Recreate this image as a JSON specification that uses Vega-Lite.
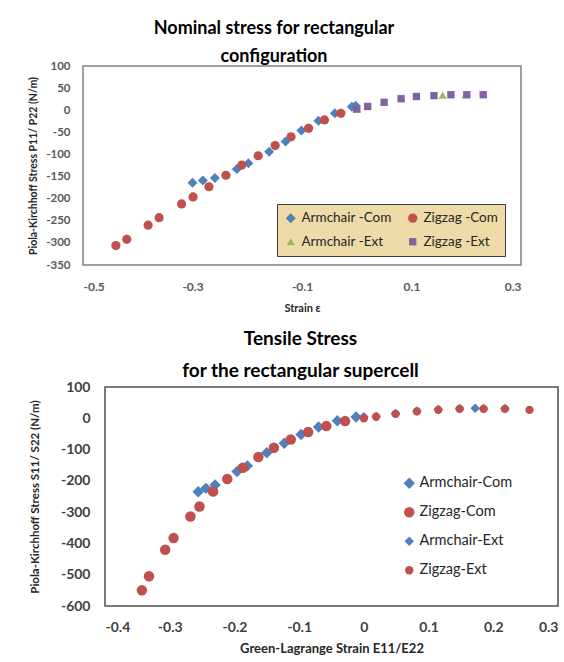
{
  "$schema": "https://vega.github.io/schema/vega-lite/v6.json",
  "background": "white",
  "padding": {"left": 5, "top": 19, "right": 5, "bottom": 5},
  "config": {
    "font": "Lato",
    "view": {"stroke": "#808080", "strokeWidth": 1.5},
    "axis": {"grid": false, "ticks": false, "domain": false, "labelFont": "Lato", "labelFontWeight": "bold", "titleFont": "Lato", "titleFontWeight": "bold", "labelColor": "#595959", "titleColor": "#262626"},
    "title": {"font": "Lato", "fontWeight": "bold", "color": "#000000", "anchor": "middle"}
  },
  "datasets": {
    "nominal": [
      {"series": "Armchair -Com", "strain": -0.300, "stress": -164},
      {"series": "Armchair -Com", "strain": -0.281, "stress": -159},
      {"series": "Armchair -Com", "strain": -0.259, "stress": -153},
      {"series": "Armchair -Com", "strain": -0.219, "stress": -133},
      {"series": "Armchair -Com", "strain": -0.198, "stress": -120},
      {"series": "Armchair -Com", "strain": -0.160, "stress": -94},
      {"series": "Armchair -Com", "strain": -0.130, "stress": -71},
      {"series": "Armchair -Com", "strain": -0.101, "stress": -46},
      {"series": "Armchair -Com", "strain": -0.070, "stress": -24},
      {"series": "Armchair -Com", "strain": -0.040, "stress": -7},
      {"series": "Armchair -Com", "strain": -0.009, "stress": 8},
      {"series": "Armchair -Com", "strain": -0.002, "stress": 10},
      {"series": "Zigzag -Com", "strain": -0.440, "stress": -306},
      {"series": "Zigzag -Com", "strain": -0.420, "stress": -292},
      {"series": "Zigzag -Com", "strain": -0.381, "stress": -260},
      {"series": "Zigzag -Com", "strain": -0.361, "stress": -243},
      {"series": "Zigzag -Com", "strain": -0.320, "stress": -212},
      {"series": "Zigzag -Com", "strain": -0.299, "stress": -196},
      {"series": "Zigzag -Com", "strain": -0.270, "stress": -173},
      {"series": "Zigzag -Com", "strain": -0.239, "stress": -147},
      {"series": "Zigzag -Com", "strain": -0.210, "stress": -124},
      {"series": "Zigzag -Com", "strain": -0.180, "stress": -103},
      {"series": "Zigzag -Com", "strain": -0.149, "stress": -80},
      {"series": "Zigzag -Com", "strain": -0.120, "stress": -60},
      {"series": "Zigzag -Com", "strain": -0.088, "stress": -41},
      {"series": "Zigzag -Com", "strain": -0.059, "stress": -22},
      {"series": "Zigzag -Com", "strain": -0.029, "stress": -7},
      {"series": "Armchair -Ext", "strain": 0.000, "stress": 3},
      {"series": "Armchair -Ext", "strain": 0.050, "stress": 18},
      {"series": "Armchair -Ext", "strain": 0.109, "stress": 31},
      {"series": "Armchair -Ext", "strain": 0.157, "stress": 34},
      {"series": "Armchair -Ext", "strain": 0.199, "stress": 35},
      {"series": "Zigzag -Ext", "strain": 0.000, "stress": 2.5},
      {"series": "Zigzag -Ext", "strain": 0.020, "stress": 8.5},
      {"series": "Zigzag -Ext", "strain": 0.050, "stress": 18},
      {"series": "Zigzag -Ext", "strain": 0.081, "stress": 26},
      {"series": "Zigzag -Ext", "strain": 0.109, "stress": 31},
      {"series": "Zigzag -Ext", "strain": 0.141, "stress": 33},
      {"series": "Zigzag -Ext", "strain": 0.172, "stress": 35},
      {"series": "Zigzag -Ext", "strain": 0.201, "stress": 35},
      {"series": "Zigzag -Ext", "strain": 0.231, "stress": 35}
    ],
    "tensile": [
      {"series": "Armchair-Com", "strain": -0.256, "stress": -235},
      {"series": "Armchair-Com", "strain": -0.244, "stress": -224},
      {"series": "Armchair-Com", "strain": -0.230, "stress": -213},
      {"series": "Armchair-Com", "strain": -0.196, "stress": -170},
      {"series": "Armchair-Com", "strain": -0.180, "stress": -152},
      {"series": "Armchair-Com", "strain": -0.150, "stress": -110},
      {"series": "Armchair-Com", "strain": -0.123, "stress": -80},
      {"series": "Armchair-Com", "strain": -0.097, "stress": -52},
      {"series": "Armchair-Com", "strain": -0.070, "stress": -28},
      {"series": "Armchair-Com", "strain": -0.041, "stress": -8},
      {"series": "Armchair-Com", "strain": -0.012, "stress": 4},
      {"series": "Zigzag-Com", "strain": -0.343, "stress": -550},
      {"series": "Zigzag-Com", "strain": -0.332, "stress": -505},
      {"series": "Zigzag-Com", "strain": -0.307, "stress": -420},
      {"series": "Zigzag-Com", "strain": -0.294, "stress": -383},
      {"series": "Zigzag-Com", "strain": -0.268, "stress": -314},
      {"series": "Zigzag-Com", "strain": -0.254, "stress": -282},
      {"series": "Zigzag-Com", "strain": -0.233, "stress": -234},
      {"series": "Zigzag-Com", "strain": -0.211, "stress": -194},
      {"series": "Zigzag-Com", "strain": -0.187, "stress": -158},
      {"series": "Zigzag-Com", "strain": -0.163, "stress": -124},
      {"series": "Zigzag-Com", "strain": -0.139, "stress": -94},
      {"series": "Zigzag-Com", "strain": -0.113, "stress": -68},
      {"series": "Zigzag-Com", "strain": -0.086, "stress": -44},
      {"series": "Zigzag-Com", "strain": -0.058, "stress": -25},
      {"series": "Zigzag-Com", "strain": -0.029, "stress": -9},
      {"series": "Armchair-Ext", "strain": 0.000, "stress": 5},
      {"series": "Armchair-Ext", "strain": 0.019, "stress": 6},
      {"series": "Armchair-Ext", "strain": 0.049, "stress": 15},
      {"series": "Armchair-Ext", "strain": 0.082, "stress": 23},
      {"series": "Armchair-Ext", "strain": 0.115, "stress": 28},
      {"series": "Armchair-Ext", "strain": 0.148, "stress": 31},
      {"series": "Armchair-Ext", "strain": 0.172, "stress": 32},
      {"series": "Armchair-Ext", "strain": 0.185, "stress": 31},
      {"series": "Armchair-Ext", "strain": 0.218, "stress": 31},
      {"series": "Zigzag-Ext", "strain": 0.000, "stress": 0},
      {"series": "Zigzag-Ext", "strain": 0.019, "stress": 5},
      {"series": "Zigzag-Ext", "strain": 0.049, "stress": 14},
      {"series": "Zigzag-Ext", "strain": 0.082, "stress": 22},
      {"series": "Zigzag-Ext", "strain": 0.115, "stress": 27},
      {"series": "Zigzag-Ext", "strain": 0.148, "stress": 30},
      {"series": "Zigzag-Ext", "strain": 0.185, "stress": 30},
      {"series": "Zigzag-Ext", "strain": 0.218, "stress": 30},
      {"series": "Zigzag-Ext", "strain": 0.256, "stress": 27}
    ]
  },
  "vconcat": [
    {"hconcat": [
      {
        "width": 22, "height": 10,
        "data": {"values": []},
        "mark": "point",
        "view": {"stroke": null}
      },
      {
        "width": 438,
        "height": 199,
        "title": {"text": ["Nominal stress for rectangular", "configuration"], "fontSize": 18, "lineHeight": 28, "offset": -6, "dx": -28},
        "data": {"name": "nominal"},
        "mark": {"type": "point", "filled": true, "opacity": 1},
        "encoding": {
          "x": {"field": "strain", "type": "quantitative", "scale": {"domain": [-0.5, 0.3], "nice": false, "zero": false},
            "axis": {"values": [-0.5, -0.3, -0.1, 0.1, 0.3], "labelExpr": "toString(datum.value)", "title": "Strain ε", "labelFontSize": 12, "titleFontSize": 11, "labelPadding": 16, "titlePadding": 10}},
          "y": {"field": "stress", "type": "quantitative", "scale": {"domain": [-350, 100], "nice": false, "zero": false},
            "axis": {"values": [-350, -300, -250, -200, -150, -100, -50, 0, 50, 100], "labelExpr": "toString(datum.value)", "title": "Piola-Kirchhoff Stress P11/ P22 (N/m)", "labelFontSize": 11.5, "titleFontSize": 10.5, "labelPadding": 13, "titlePadding": 7}},
          "color": {"field": "series", "type": "nominal",
            "scale": {"domain": ["Armchair -Com", "Zigzag -Com", "Armchair -Ext", "Zigzag -Ext"], "range": ["#4F81BD", "#C0504D", "#9BBB59", "#8064A2"]},
            "legend": {"title": null, "orient": "none", "legendX": 272, "legendY": 138, "columns": 2, "direction": "horizontal", "fillColor": "#EEDBA8", "strokeColor": "#3a3a3a", "padding": 7, "labelFontSize": 13.5, "labelFont": "Lato", "labelColor": "#262626", "rowPadding": 9, "columnPadding": 14, "labelOffset": 4}},
          "shape": {"field": "series", "type": "nominal",
            "scale": {"domain": ["Armchair -Com", "Zigzag -Com", "Armchair -Ext", "Zigzag -Ext"], "range": ["diamond", "circle", "triangle-up", "square"]}},
          "size": {"field": "series", "type": "nominal",
            "scale": {"domain": ["Armchair -Com", "Zigzag -Com", "Armchair -Ext", "Zigzag -Ext"], "range": [100, 54, 70, 81]}}
        }
      }
    ], "spacing": 0},
    {"hconcat": [
      {
        "width": 23, "height": 10,
        "data": {"values": []},
        "mark": "point",
        "view": {"stroke": null}
      },
      {
        "width": 453,
        "height": 219,
        "view": {"stroke": "#505050", "strokeWidth": 1.5},
        "title": {"text": ["Tensile Stress", "for the rectangular supercell"], "fontSize": 19, "lineHeight": 32, "offset": -1, "dx": -31},
        "data": {"name": "tensile"},
        "mark": {"type": "point", "filled": true, "opacity": 1},
        "encoding": {
          "x": {"field": "strain", "type": "quantitative", "scale": {"domain": [-0.4, 0.3], "nice": false, "zero": false},
            "axis": {"values": [-0.4, -0.3, -0.2, -0.1, 0, 0.1, 0.2, 0.3], "labelExpr": "toString(datum.value)", "title": "Green-Lagrange Strain E11/E22", "labelFontSize": 14, "titleFontSize": 13, "labelPadding": 14, "titlePadding": 8, "labelColor": "#404040"}},
          "y": {"field": "stress", "type": "quantitative", "scale": {"domain": [-600, 100], "nice": false, "zero": false},
            "axis": {"values": [-600, -500, -400, -300, -200, -100, 0, 100], "labelExpr": "toString(datum.value)", "title": "Piola-Kirchhoff Stress S11/ S22 (N/m)", "labelFontSize": 14, "titleFontSize": 11.5, "labelPadding": 15, "titlePadding": 20, "labelColor": "#404040"}},
          "color": {"field": "series", "type": "nominal",
            "scale": {"domain": ["Armchair-Com", "Zigzag-Com", "Armchair-Ext", "Zigzag-Ext"], "range": ["#4F81BD", "#C0504D", "#4F81BD", "#C0504D"]},
            "legend": {"title": null, "orient": "none", "legendX": 397, "legendY": 89, "direction": "vertical", "padding": 0, "labelFontSize": 14.5, "labelFont": "Lato", "labelColor": "#262626", "rowPadding": 14, "labelOffset": 3}},
          "shape": {"field": "series", "type": "nominal",
            "scale": {"domain": ["Armchair-Com", "Zigzag-Com", "Armchair-Ext", "Zigzag-Ext"], "range": ["diamond", "circle", "diamond", "circle"]}},
          "size": {"field": "series", "type": "nominal",
            "scale": {"domain": ["Armchair-Com", "Zigzag-Com", "Armchair-Ext", "Zigzag-Ext"], "range": [130, 70, 130, 70]}}
        }
      }
    ], "spacing": 0}
  ],
  "spacing": 15,
  "resolve": {"scale": {"color": "independent", "shape": "independent", "size": "independent"}}
}
